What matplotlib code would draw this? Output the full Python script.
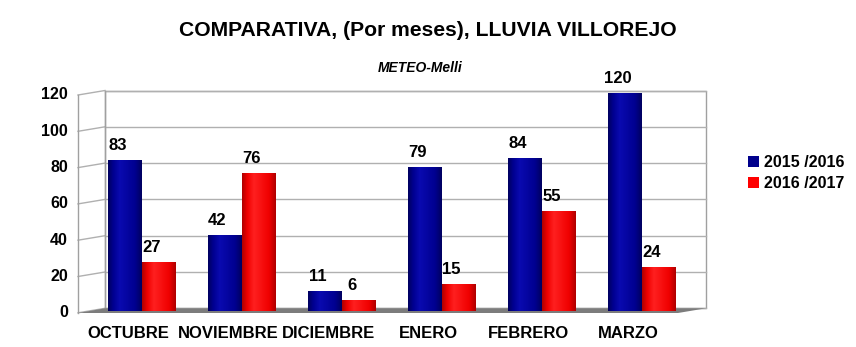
import matplotlib
matplotlib.use('Agg')
import matplotlib.pyplot as plt
import numpy as np
from matplotlib.patches import Polygon, Rectangle
from matplotlib.lines import Line2D
from matplotlib.colors import to_rgb

months = ['OCTUBRE', 'NOVIEMBRE', 'DICIEMBRE', 'ENERO', 'FEBRERO', 'MARZO']
series_names = ['2015 /2016', '2016 /2017']
rain_1516 = [83, 42, 11, 79, 84, 120]
rain_1617 = [27, 76, 6, 15, 55, 24]
y_ticks = [0, 20, 40, 60, 80, 100, 120]
title = 'COMPARATIVA, (Por meses), LLUVIA VILLOREJO'
subtitle = 'METEO-Melli'

W, H = 856, 347
plt.rcParams['font.family'] = ['Liberation Sans', 'DejaVu Sans']
fig = plt.figure(figsize=(W / 100, H / 100), dpi=100)
fig.patch.set_facecolor('white')


def fx(x):
    return x / W


def fy(y):
    return 1 - y / H


def yb(v):  # back wall pixel y
    return 308.3 - v * 36.3 / 20


def yf(v):  # front (left wall) pixel y
    return yb(v) + 4.5


grid_c = '#b0b0b0'
edge_c = '#a0a0a0'

# back wall
fig.add_artist(Polygon([(fx(105), fy(yb(120))), (fx(706), fy(yb(120))),
                        (fx(706), fy(yb(0))), (fx(105), fy(yb(0)))],
                       closed=True, transform=fig.transFigure, facecolor='white',
                       edgecolor=edge_c, lw=1, zorder=-3))
for v in y_ticks:
    fig.add_artist(Line2D([fx(105), fx(706)], [fy(yb(v)), fy(yb(v))],
                          transform=fig.transFigure, color=grid_c, lw=1, zorder=-2))
    fig.add_artist(Line2D([fx(78), fx(105)], [fy(yf(v)), fy(yb(v))],
                          transform=fig.transFigure, color=grid_c, lw=1, zorder=-2))
    fig.text(fx(68), fy(yf(v)), str(v), ha='right', va='center',
             fontsize=11.5, fontweight='bold')
fig.add_artist(Line2D([fx(78), fx(78)], [fy(yf(120)), fy(yf(0))],
                      transform=fig.transFigure, color=edge_c, lw=1, zorder=-2))
fig.add_artist(Line2D([fx(105), fx(105)], [fy(yb(120)), fy(yb(0))],
                      transform=fig.transFigure, color=edge_c, lw=1, zorder=-2))
# floor
fig.add_artist(Polygon([(fx(78), fy(313)), (fx(678), fy(313)),
                        (fx(706), fy(yb(0))), (fx(105), fy(yb(0)))],
                       closed=True, transform=fig.transFigure, facecolor='#7c7c7c',
                       edgecolor='none', zorder=-1))

# bars axes: 0 -> 311 px, 120 -> 93 px
ax = fig.add_axes([fx(105), fy(311), (706 - 105) / W, (311 - 93) / H])
ax.set_facecolor('none')
ax.axis('off')

x = np.arange(len(months))
bw = 0.34
b1 = ax.bar(x - bw / 2, rain_1516, width=bw, color='#00008c', linewidth=0)
b2 = ax.bar(x + bw / 2, rain_1617, width=bw, color='#ff0000', linewidth=0)


def shade(bars, dark, mid, light):
    cols = np.array([to_rgb(dark), to_rgb(mid), to_rgb(light), to_rgb(mid), to_rgb(dark)])
    pos = np.array([0, 0.15, 0.35, 0.8, 1.0])
    t = np.linspace(0, 1, 64)
    grad = np.stack([np.interp(t, pos, cols[:, k]) for k in range(3)], axis=-1)[None, :, :]
    for b in bars:
        x0, w, h = b.get_x(), b.get_width(), b.get_height()
        im = ax.imshow(grad, extent=(x0, x0 + w, 0, h), aspect='auto',
                       interpolation='bilinear', zorder=b.get_zorder() + 0.1)
        im.set_clip_path(b)


shade(b1, '#000060', '#000090', '#0a0ab0')
shade(b2, '#b00000', '#f00000', '#ff2020')

ax.set_xlim(-0.365, -0.365 + 6.01)
ax.set_ylim(0, 120)

for bars in (b1, b2):
    for b in bars:
        ax.annotate(str(int(b.get_height())),
                    (b.get_x() + b.get_width() / 2, b.get_height()),
                    xytext=(-7, 10), textcoords='offset pixels',
                    ha='center', va='baseline', fontsize=12, fontweight='bold')

for i, m in enumerate(months):
    ax.annotate(m, (x[i], 0), xytext=(-13, -22), textcoords='offset pixels',
                ha='center', va='center', fontsize=12, fontweight='bold',
                annotation_clip=False)

fig.text(fx(428), fy(31), title, ha='center', va='center', fontsize=15.2, fontweight='bold')
fig.text(fx(420), fy(68), subtitle, ha='center', va='center', fontsize=10,
         fontweight='bold', fontstyle='italic')

handles = [Rectangle((0, 0), 1, 1, facecolor='#00008c'),
           Rectangle((0, 0), 1, 1, facecolor='#ff0000')]
fig.legend(handles, series_names, loc='center left',
           bbox_to_anchor=(fx(734), fy(173)), frameon=False,
           handlelength=0.65, handleheight=0.65, handletextpad=0.3,
           labelspacing=0.35, prop={'size': 11.5, 'weight': 'bold'})

fig.savefig('out.png', dpi=100, facecolor='white')
